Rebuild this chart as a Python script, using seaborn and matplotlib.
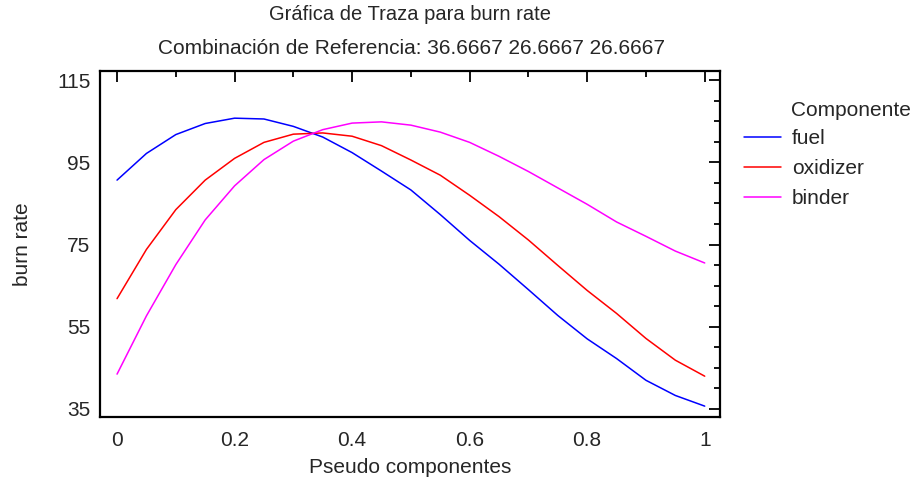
import numpy as np
import pandas as pd
import matplotlib
matplotlib.use("Agg")
import matplotlib.pyplot as plt
from matplotlib.ticker import MultipleLocator
from matplotlib.lines import Line2D
import seaborn as sns

# ---- data ----
x_vals = [0.00, 0.05, 0.10, 0.15, 0.20, 0.25, 0.30, 0.35, 0.40, 0.45, 0.50,
          0.55, 0.60, 0.65, 0.70, 0.75, 0.80, 0.85, 0.90, 0.95, 1.00]
fuel = [90.7, 97.2, 101.8, 104.5, 105.8, 105.6, 103.8, 101.2, 97.4, 92.9, 88.3,
        82.3, 76.0, 70.2, 64.0, 57.7, 52.0, 47.2, 41.9, 38.2, 35.6]
oxidizer = [61.8, 73.8, 83.5, 90.7, 96.0, 99.9, 101.9, 102.2, 101.4, 99.1, 95.6,
            91.9, 87.0, 81.8, 76.1, 69.9, 63.8, 58.2, 52.1, 46.8, 42.9]
binder = [43.4, 57.6, 70.1, 81.0, 89.3, 95.7, 100.2, 103.0, 104.6, 104.9, 104.1,
          102.4, 99.9, 96.5, 92.8, 88.8, 84.8, 80.5, 77.0, 73.4, 70.5]
components = ["fuel", "oxidizer", "binder"]
colors = ["#0000ff", "#ff0000", "#ff00ff"]
y_ticks = [35, 55, 75, 95, 115]
x_ticks = [0, 0.2, 0.4, 0.6, 0.8, 1.0]
x_tick_labels = ["0", "0.2", "0.4", "0.6", "0.8", "1"]

df = pd.DataFrame({
    "Pseudo componentes": x_vals * 3,
    "burn rate": fuel + oxidizer + binder,
    "Componente": sum([[c] * len(x_vals) for c in components], []),
})

sns.set_style("white")
plt.rcParams["font.family"] = ["Liberation Sans", "DejaVu Sans"]

W, H = 916, 486
fig = plt.figure(figsize=(W / 100, H / 100), dpi=100)
ax = fig.add_axes([100 / W, 1 - 417 / H, 620 / W, (417 - 71) / H])

sns.lineplot(data=df, x="Pseudo componentes", y="burn rate", hue="Componente",
             hue_order=components, palette=colors, linewidth=1.1, ax=ax,
             legend=False)

ax.set_xlim(-0.029, 1.026)
ax.set_ylim(32.95, 117.3)
ax.set_xticks(x_ticks)
ax.set_xticklabels(x_tick_labels)
ax.set_yticks(y_ticks)
ax.xaxis.set_minor_locator(MultipleLocator(0.1))
ax.yaxis.set_minor_locator(MultipleLocator(5))
ax.tick_params(axis="both", which="both", direction="in", top=True, right=True,
               color="black", width=1.3)
ax.tick_params(axis="both", which="major", length=8, labelsize=15)
ax.tick_params(axis="x", which="major", pad=10)
ax.tick_params(axis="y", which="major", pad=7)
ax.tick_params(axis="both", which="minor", length=4)
for s in ax.spines.values():
    s.set_color("black")
    s.set_linewidth(1.6)

ax.set_xlabel("Pseudo componentes", fontsize=15, labelpad=6)
ax.set_ylabel("burn rate", fontsize=15, labelpad=18)

fig.text(410 / W, 1 - 15 / H, "Gráfica de Traza para burn rate",
         ha="center", va="center", fontsize=14.5)
fig.text(411 / W, 1 - 48 / H,
         "Combinación de Referencia: 36.6667 26.6667 26.6667",
         ha="center", va="center", fontsize=15)

# legend
handles = [Line2D([0], [0], color=c, lw=1.1) for c in colors]
fig.legend(handles, components, loc="upper left",
           bbox_to_anchor=(744 / W, 1 - 129.5 / H), frameon=False,
           fontsize=15, handlelength=1.78, handletextpad=0.53,
           labelspacing=0.52, borderpad=0, borderaxespad=0)
fig.text(791 / W, 1 - 110 / H, "Componente", ha="left", va="center",
         fontsize=15)

fig.savefig("out.png", dpi=100)
